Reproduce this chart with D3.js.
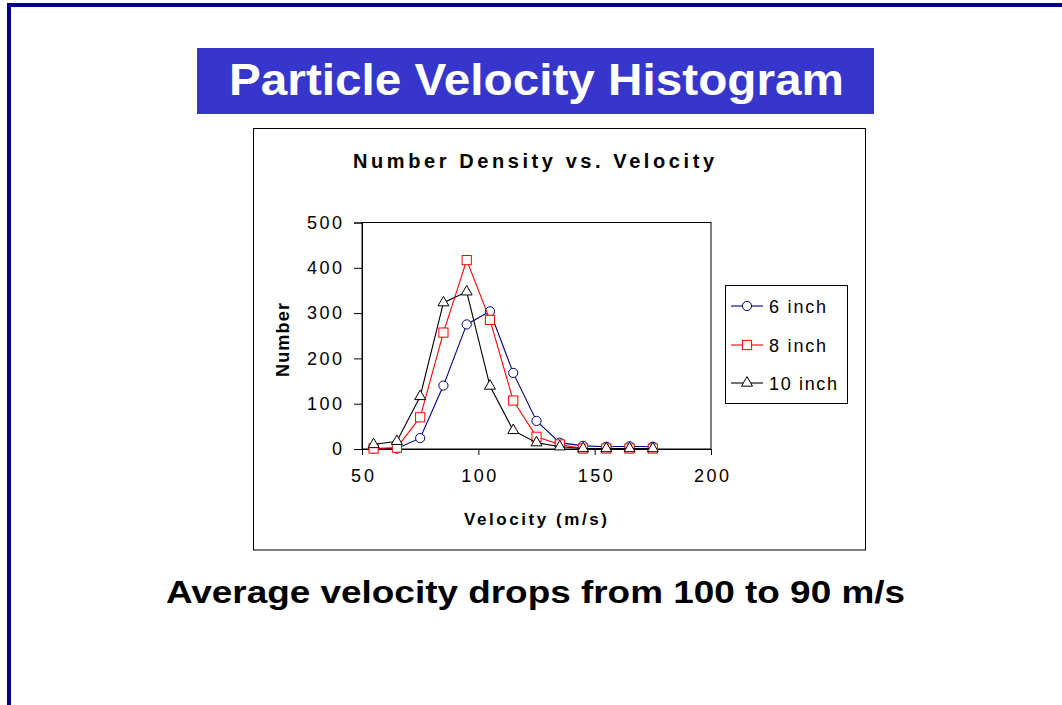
<!DOCTYPE html>
<html>
<head>
<meta charset="utf-8">
<script src="https://cdn.jsdelivr.net/npm/d3@7/dist/d3.min.js"></script>
<style>
  html, body { margin: 0; padding: 0; background: #fff; }
  svg { display: block; font-family: Arial, "Liberation Sans", Helvetica, sans-serif; }
</style>
</head>
<body>
<svg id="slide" width="1062" height="705"></svg>
<script>
// Velocity bin centres (m/s)
const velocities = [55, 65, 75, 85, 95, 105, 115, 125, 135, 145, 155, 165, 175];
// Particle counts per bin at each distance
const inch6  = [1, 1, 24, 140, 275, 304, 168, 62, 14, 7, 5, 6, 5];
const inch8  = [1, 3, 70, 257, 417, 285, 107, 27, 10, 1, 1, 1, 1];
const inch10 = [10, 17, 116, 323, 347, 139, 41, 14, 5, 1, 1, 1, 1];
const seriesNames = ["6 inch", "8 inch", "10 inch"];
const xTicks = [50, 100, 150, 200];
const yTicks = [0, 100, 200, 300, 400, 500];

const svg = d3.select("#slide");

// width of a spaced-out label of n characters
const spaced = n => n * 12 - 1;

// slide frame
svg.append("rect")
  .attr("x", 9).attr("y", 5).attr("width", 1060).attr("height", 720)
  .attr("fill", "none").attr("stroke", "#00008B").attr("stroke-width", 4);

// heading banner
svg.append("rect")
  .attr("x", 197).attr("y", 48).attr("width", 677).attr("height", 66)
  .attr("fill", "#3636CC");
svg.append("text")
  .attr("x", 229).attr("y", 95)
  .attr("textLength", 615).attr("lengthAdjust", "spacingAndGlyphs")
  .attr("font-size", 45).attr("font-weight", "bold").attr("fill", "#fff")
  .text("Particle Velocity Histogram");

// chart frame
svg.append("rect")
  .attr("x", 253.5).attr("y", 128.5).attr("width", 612).attr("height", 421.5)
  .attr("fill", "#fff").attr("stroke", "#000").attr("stroke-width", 1);

svg.append("text")
  .attr("x", 353).attr("y", 168)
  .attr("textLength", 361).attr("lengthAdjust", "spacing")
  .attr("font-size", 20).attr("font-weight", "bold").attr("fill", "#000")
  .text("Number Density vs. Velocity");

const x = d3.scaleLinear().domain([50, 200]).range([362, 711]);
const y = d3.scaleLinear().domain([0, 500]).range([449, 222.5]);

// plot area outline
svg.append("rect")
  .attr("x", x(50)).attr("y", y(500))
  .attr("width", x(200) - x(50)).attr("height", y(0) - y(500))
  .attr("fill", "none").attr("stroke", "#000").attr("stroke-width", 1);

// axes
const yAxis = svg.append("g")
  .attr("transform", `translate(${x(50)},0)`)
  .call(d3.axisLeft(y).tickValues(yTicks).tickSize(8).tickPadding(12).tickFormat(d3.format("d")));
const xAxis = svg.append("g")
  .attr("transform", `translate(0,${y(0)})`)
  .call(d3.axisBottom(x).tickValues(xTicks).tickSize(6).tickPadding(14).tickFormat(d3.format("d")));

[yAxis, xAxis].forEach(g => {
  g.select(".domain").attr("stroke", "#000");
  g.selectAll(".tick line").attr("stroke", "#000");
  g.selectAll(".tick text")
    .attr("font-family", "Arial, 'Liberation Sans', sans-serif")
    .attr("font-size", 18).attr("fill", "#000")
    .each(function (d) {
      const s = String(d);
      if (s.length > 1) {
        d3.select(this).attr("textLength", spaced(s.length)).attr("lengthAdjust", "spacing");
      }
    });
});

// axis titles
svg.append("text")
  .attr("x", 464).attr("y", 525)
  .attr("textLength", 143).attr("lengthAdjust", "spacing")
  .attr("font-size", 17).attr("font-weight", "bold")
  .text("Velocity (m/s)");
svg.append("text")
  .attr("transform", "translate(289,377) rotate(-90)")
  .attr("textLength", 74).attr("lengthAdjust", "spacing")
  .attr("font-size", 18).attr("font-weight", "bold")
  .text("Number");

// series
const series = [
  { name: seriesNames[0], values: inch6,  color: "#000080", symbol: "circle" },
  { name: seriesNames[1], values: inch8,  color: "#FF0000", symbol: "square" },
  { name: seriesNames[2], values: inch10, color: "#000000", symbol: "triangle" }
];

function drawMarker(g, kind, color, cx, cy) {
  if (kind === "circle") {
    g.append("circle").attr("cx", cx).attr("cy", cy).attr("r", 4.6)
      .attr("fill", "#fff").attr("stroke", color).attr("stroke-width", 1);
  } else if (kind === "square") {
    g.append("rect").attr("x", cx - 4.6).attr("y", cy - 4.6)
      .attr("width", 9.2).attr("height", 9.2)
      .attr("fill", "#fff").attr("stroke", color).attr("stroke-width", 1);
  } else {
    const h = 9.5, w = 11;
    const pts = [[cx, cy - h * 2 / 3], [cx + w / 2, cy + h / 3], [cx - w / 2, cy + h / 3]];
    g.append("polygon").attr("points", pts.map(p => p.join(",")).join(" "))
      .attr("fill", "#fff").attr("stroke", color).attr("stroke-width", 1);
  }
}

const line = d3.line().x(d => x(d[0])).y(d => y(d[1]));

series.forEach(s => {
  const g = svg.append("g");
  const pts = velocities.map((v, i) => [v, s.values[i]]);
  g.append("path").attr("d", line(pts))
    .attr("fill", "none").attr("stroke", s.color).attr("stroke-width", 1.1);
  pts.forEach(p => drawMarker(g, s.symbol, s.color, x(p[0]), y(p[1])));
});

// legend
const legend = svg.append("g");
legend.append("rect")
  .attr("x", 725.5).attr("y", 285.5).attr("width", 122).attr("height", 118)
  .attr("fill", "#fff").attr("stroke", "#000").attr("stroke-width", 1);
const rowY = [306, 345, 383];
series.forEach((s, i) => {
  legend.append("line")
    .attr("x1", 731).attr("x2", 763).attr("y1", rowY[i]).attr("y2", rowY[i])
    .attr("stroke", s.color).attr("stroke-width", 1.1);
  drawMarker(legend, s.symbol, s.color, 747, rowY[i]);
  legend.append("text")
    .attr("x", 769).attr("y", rowY[i] + 6.5)
    .attr("textLength", s.name.length === 6 ? 57 : 68)
    .attr("lengthAdjust", "spacing")
    .attr("font-size", 18)
    .text(s.name);
});

// takeaway line
svg.append("text")
  .attr("x", 166).attr("y", 603)
  .attr("textLength", 739).attr("lengthAdjust", "spacingAndGlyphs")
  .attr("font-size", 31).attr("font-weight", "bold")
  .text("Average velocity drops from 100 to 90 m/s");
</script>
</body>
</html>
